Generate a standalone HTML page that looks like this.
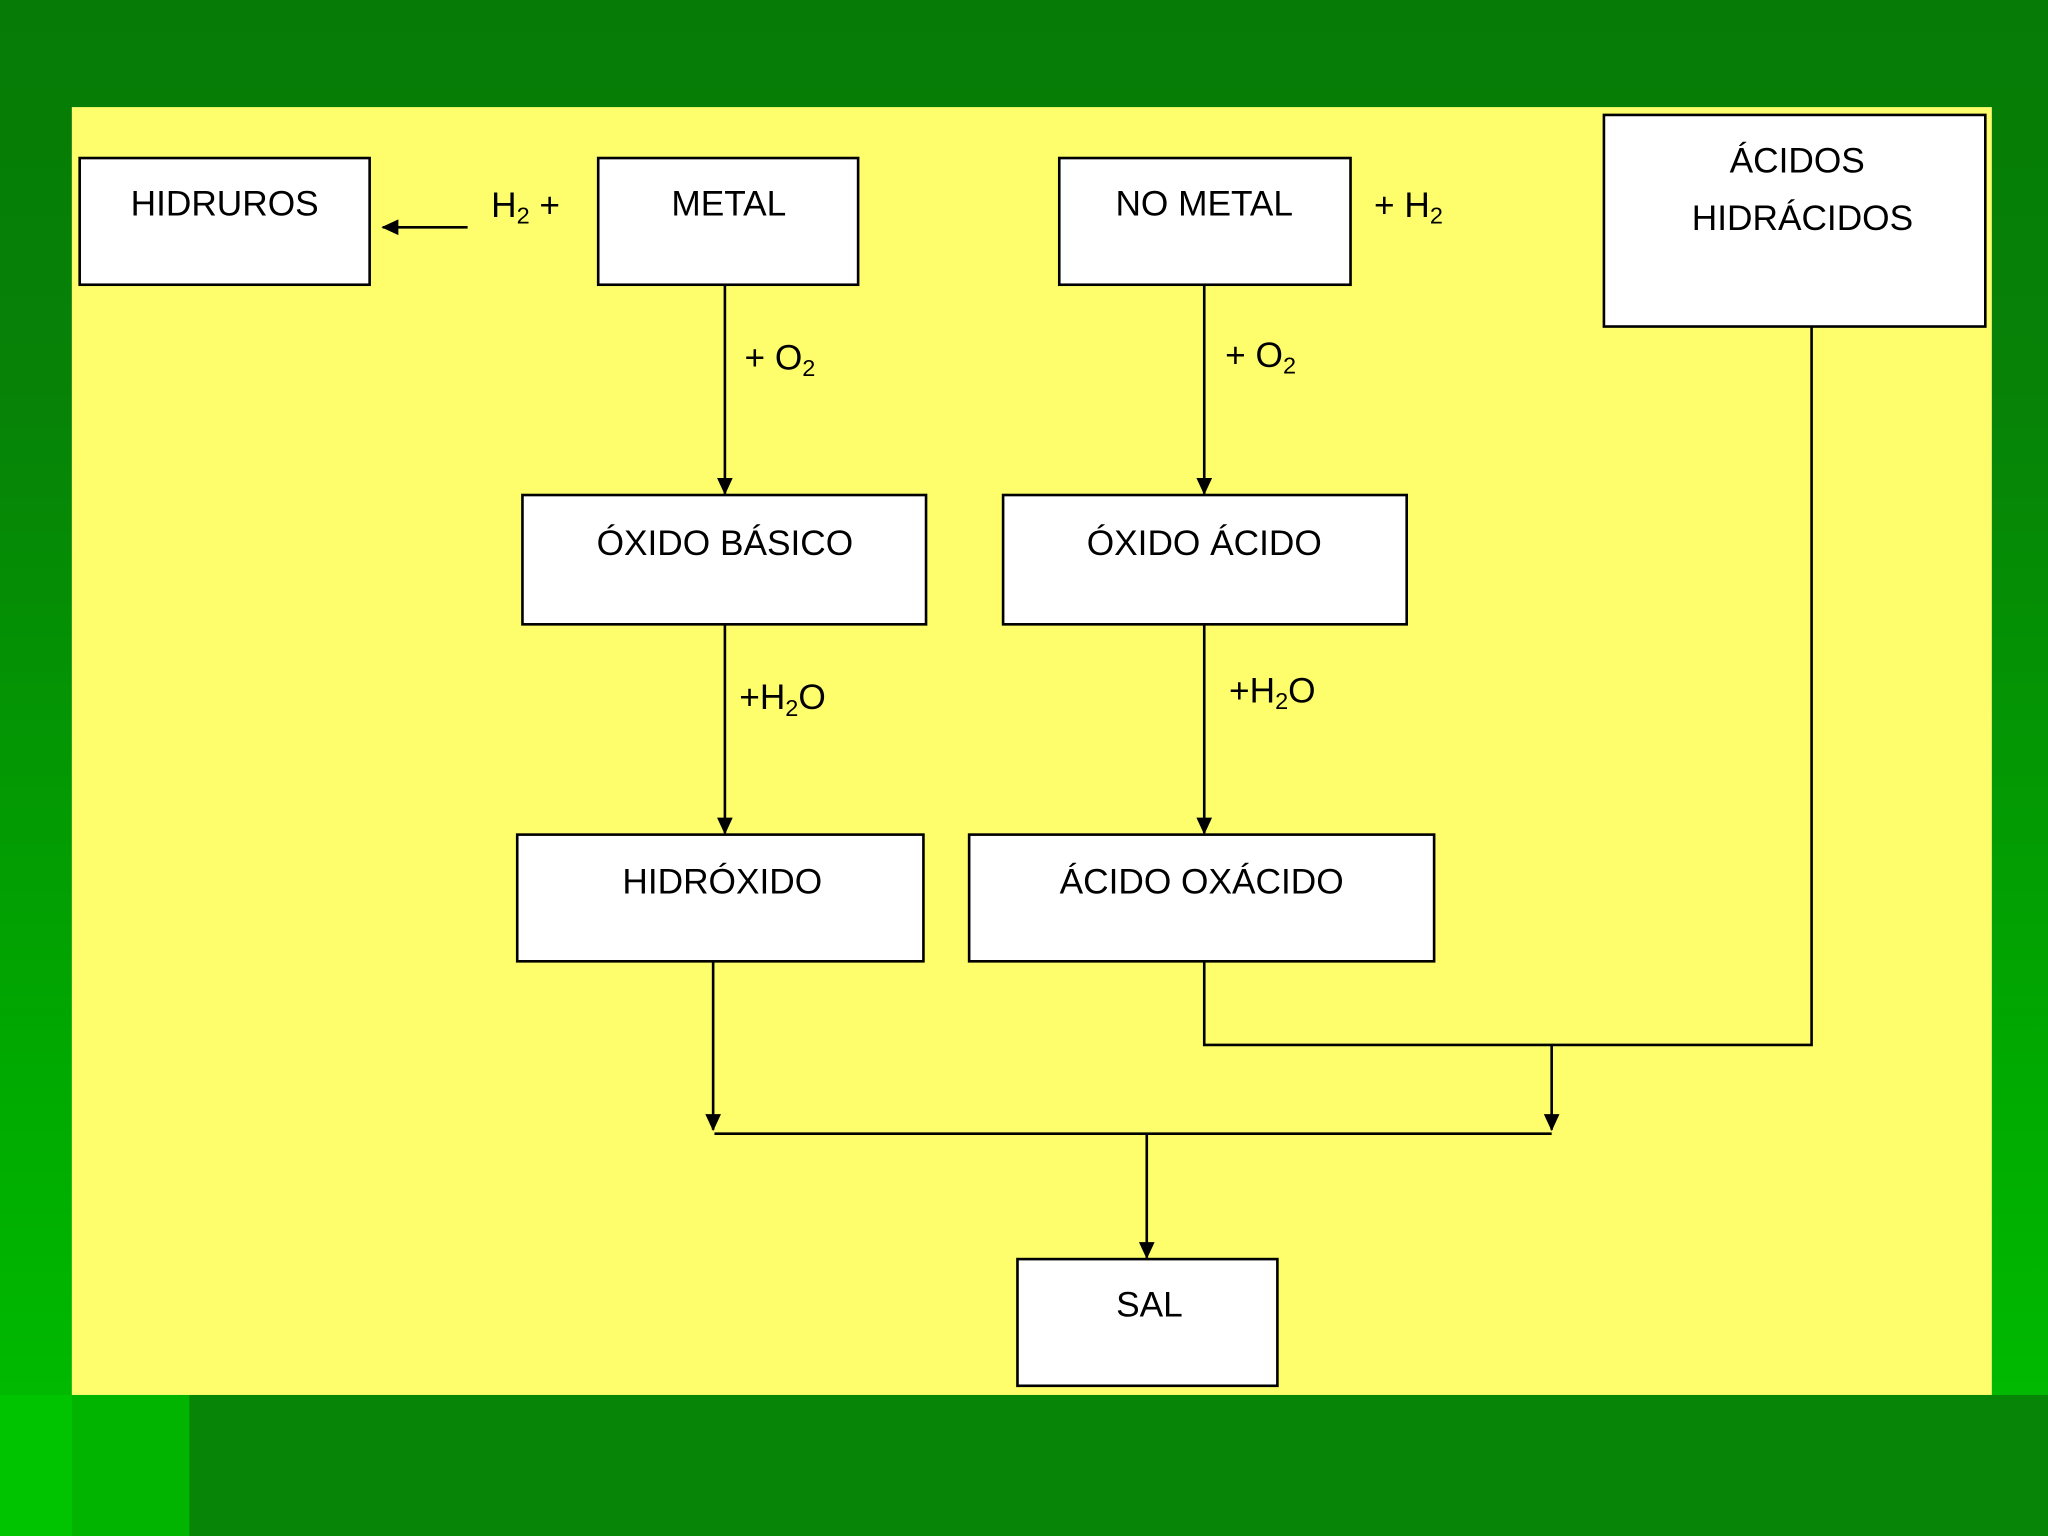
<!DOCTYPE html>
<html><head><meta charset="utf-8"><style>
html,body{margin:0;padding:0;width:2048px;height:1536px;overflow:hidden}
body{background:#078007}
svg{position:absolute;left:0;top:0}
text{font-family:"Liberation Sans",sans-serif;font-size:27px;fill:#000}
</style></head><body>
<svg width="2048" height="1536" viewBox="0 0 1568 1176">
<defs><linearGradient id="g" x1="0" y1="0" x2="0" y2="1">
<stop offset="0" stop-color="#067c06"/><stop offset="0.25" stop-color="#078207"/><stop offset="0.7" stop-color="#00aa00"/><stop offset="1" stop-color="#00c000"/></linearGradient>
<marker id="a" markerWidth="14" markerHeight="14" refX="12" refY="6" orient="auto" markerUnits="userSpaceOnUse"><path d="M0,0 L13,6 L0,12 z" fill="#000"/></marker></defs>
<rect width="1568" height="1176" fill="url(#g)"/>
<rect x="0" y="1068" width="1568" height="108" fill="#068506"/>
<rect x="0" y="1068" width="145" height="108" fill="#00b400"/>
<rect x="0" y="1068" width="55" height="108" fill="#00c400"/>
<rect x="55" y="82" width="1470" height="986" fill="#fefe6c"/>
<g fill="#fff" stroke="#000" stroke-width="2">
<rect x="61" y="121" width="222" height="97"/>
<rect x="458" y="121" width="199" height="97"/>
<rect x="811" y="121" width="223" height="97"/>
<rect x="1228" y="88" width="292" height="162"/>
<rect x="400" y="379" width="309" height="99"/>
<rect x="768" y="379" width="309" height="99"/>
<rect x="396" y="639" width="311" height="97"/>
<rect x="742" y="639" width="356" height="97"/>
<rect x="779" y="964" width="199" height="97"/>
</g>
<g stroke="#000" stroke-width="2" fill="none">
<line x1="358" y1="174" x2="293" y2="174" marker-end="url(#a)"/>
<line x1="555" y1="218" x2="555" y2="378" marker-end="url(#a)"/>
<line x1="922" y1="218" x2="922" y2="378" marker-end="url(#a)"/>
<line x1="555" y1="478" x2="555" y2="638" marker-end="url(#a)"/>
<line x1="922" y1="478" x2="922" y2="638" marker-end="url(#a)"/>
<line x1="546" y1="736" x2="546" y2="865" marker-end="url(#a)"/>
<polyline points="922,736 922,800 1387,800 1387,250"/>
<line x1="1188" y1="800" x2="1188" y2="865" marker-end="url(#a)"/>
<line x1="547" y1="868" x2="1188" y2="868"/>
<line x1="878" y1="868" x2="878" y2="963" marker-end="url(#a)"/>
</g>
<g text-anchor="middle">
<text x="172" y="165">HIDRUROS</text>
<text x="558" y="165">METAL</text>
<text x="922" y="165">NO METAL</text>
<text x="1376" y="132">ÁCIDOS</text>
<text x="1380" y="176">HIDRÁCIDOS</text>
<text x="555" y="425">ÓXIDO BÁSICO</text>
<text x="922" y="425">ÓXIDO ÁCIDO</text>
<text x="553" y="684">HIDRÓXIDO</text>
<text x="920" y="684">ÁCIDO OXÁCIDO</text>
<text x="880" y="1008">SAL</text>
</g>
<text x="376" y="166">H<tspan font-size="18" dy="5">2</tspan><tspan dy="-5"> +</tspan></text>
<text x="1052" y="166">+  H<tspan font-size="18" dy="5">2</tspan></text>
<text x="570" y="283">+ O<tspan font-size="18" dy="5">2</tspan></text>
<text x="938" y="281">+ O<tspan font-size="18" dy="5">2</tspan></text>
<text x="566" y="543">+H<tspan font-size="18" dy="5">2</tspan><tspan dy="-5">O</tspan></text>
<text x="941" y="538">+H<tspan font-size="18" dy="5">2</tspan><tspan dy="-5">O</tspan></text>
</svg>
</body></html>
